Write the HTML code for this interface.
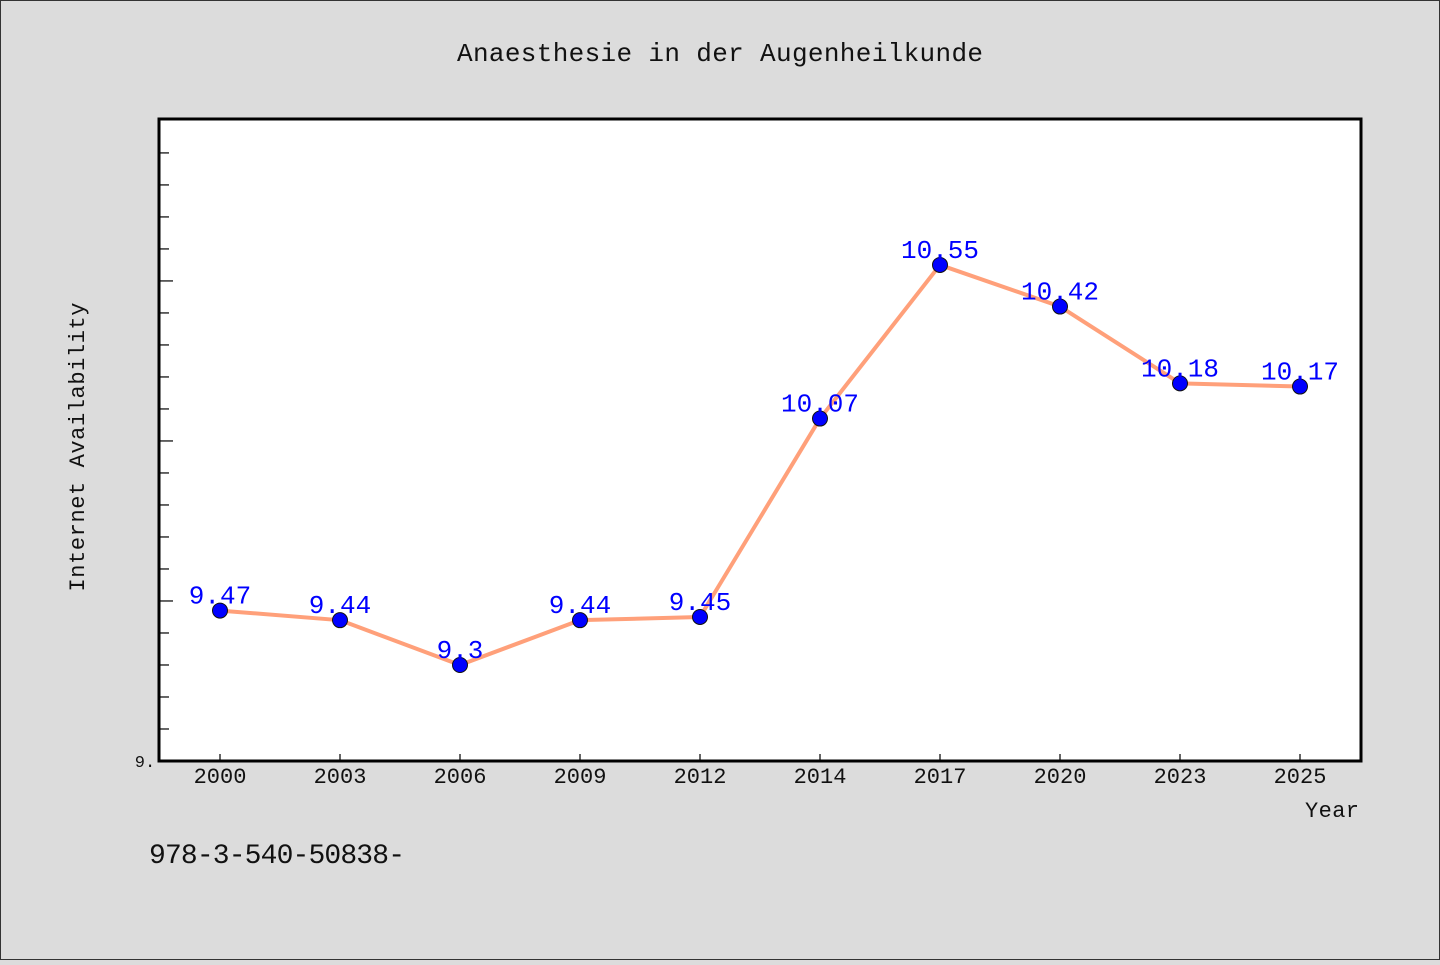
<!DOCTYPE html>
<html><head><meta charset="utf-8"><style>
html,body{margin:0;padding:0;background:#dcdcdc;}
svg text{font-family:"Liberation Mono","DejaVu Sans Mono",monospace;}
</style></head><body>
<svg width="1440" height="960" xmlns="http://www.w3.org/2000/svg">
<rect x="0.5" y="0.5" width="1439" height="959" fill="#dcdcdc" stroke="#333" stroke-width="1"/>
<text x="720" y="61" font-size="26" text-anchor="middle" fill="#111" textLength="526">Anaesthesie in der Augenheilkunde</text>
<rect x="159" y="119" width="1202" height="642" fill="#fff" stroke="#000" stroke-width="3"/>
<g id="yticks"></g>
<g id="xticks"></g>
<g id="series"></g>
<text x="145" y="767" font-size="17" text-anchor="middle" fill="#111">9.</text>
<text x="1359" y="817" font-size="22" text-anchor="end" fill="#111" textLength="54">Year</text>
<text transform="translate(84,447) rotate(-90)" font-size="22" text-anchor="middle" fill="#111" textLength="289">Internet Availability</text>
<text x="149" y="863" font-size="28" fill="#111" textLength="256">978-3-540-50838-</text>
</svg>
<script>
const categories=["2000","2003","2006","2009","2012","2014","2017","2020","2023","2025"];
const values=[9.47,9.44,9.3,9.44,9.45,10.07,10.55,10.42,10.18,10.17];
const valueLabels=["9.47","9.44","9.3","9.44","9.45","10.07","10.55","10.42","10.18","10.17"];
const yMin=9, yMax=11.006;
const NS="http://www.w3.org/2000/svg";
function X(i){return 220+i*120;}
function Y(v){return 761-(v-yMin)/(yMax-yMin)*642;}
function mk(t,a,p){const e=document.createElementNS(NS,t);for(const k in a)e.setAttribute(k,a[k]);p.appendChild(e);return e;}
const yt=document.getElementById('yticks');
for(let k=1;k<=19;k++){const v=9+k*0.1;const y=Y(v);const major=k%5===0;
 const l=mk('line',{x1:160,x2:160+(major?13:9),y1:y,y2:y,stroke:'#000','stroke-width':1.2},yt);
 
 }
const xt=document.getElementById('xticks');
categories.forEach((c,i)=>{
 const l=mk('line',{x1:X(i),x2:X(i),y1:760,y2:754,stroke:'#000','stroke-width':1.2},xt);
 
 
 const t=mk('text',{x:X(i),y:783,'font-size':22,'text-anchor':'middle',fill:'#111'},xt);
 
 
 t.textContent=c;});
const s=document.getElementById('series');
const pl=mk('polyline',{points:values.map((v,i)=>X(i)+','+Y(v)).join(' '),fill:'none',stroke:'#ffa07a','stroke-width':4,'stroke-linejoin':'round'},s);


values.forEach((v,i)=>{
 const c=mk('circle',{cx:X(i),cy:Y(v),r:7.5,fill:'#0000ff',stroke:'#111','stroke-width':1},s);
 
 
 const t=mk('text',{x:X(i),y:Y(v)-7,'font-size':26,'text-anchor':'middle',fill:'#0000ff'},s);
 
 
 t.textContent=valueLabels[i];});
</script>
</body></html>
